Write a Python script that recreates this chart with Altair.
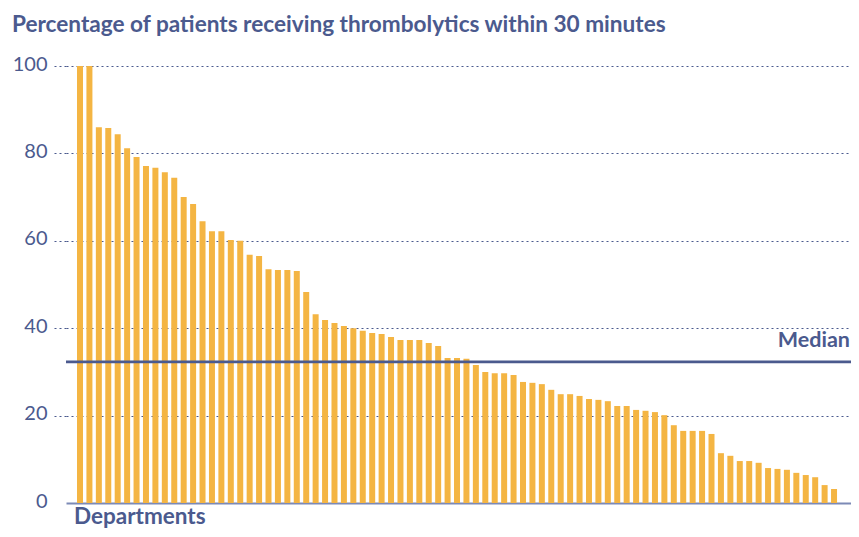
import altair as alt
import pandas as pd

values = [100, 100, 86.0, 85.8, 84.4, 81.2, 79.2, 77.1, 76.7, 75.7,
          74.4, 70.0, 68.4, 64.5, 62.2, 62.2, 60.2, 60.0, 56.8, 56.5,
          53.5, 53.3, 53.3, 53.1, 48.3, 43.2, 41.9, 41.2, 40.5, 40.0,
          39.4, 38.9, 38.7, 38.0, 37.3, 37.3, 37.3, 36.6, 35.9, 33.2,
          33.2, 33.0, 31.6, 30.0, 29.7, 29.7, 29.3, 27.7, 27.5, 27.2,
          25.9, 24.9, 24.9, 24.5, 23.8, 23.6, 23.3, 22.2, 22.2, 21.3,
          21.1, 20.8, 20.1, 17.8, 16.5, 16.5, 16.5, 15.8, 11.4, 10.8,
          9.6, 9.6, 9.2, 8.0, 7.8, 7.6, 6.9, 6.4, 5.9, 4.1, 3.2]
departments = list(range(1, len(values) + 1))
median_value = [32.3]
median_label = ["Median"]
y_ticks = [0, 20, 40, 60, 80, 100]
title_text = ["Percentage of patients receiving thrombolytics within 30 minutes"]
x_title = ["Departments"]

NAVY = "#4B5A8E"
BAR = "#F4B543"
FONT = "Lato"
W, H = 785, 437

df = pd.DataFrame({"dept": departments, "pct": values})
med = pd.DataFrame({"m": median_value, "label": median_label})

xscale = alt.Scale(domain=[-0.485, 82.80], nice=False, zero=False, padding=0)
yscale = alt.Scale(domain=[0, 100], nice=False)

bars = alt.Chart(df).mark_bar(width=6, color=BAR).encode(
    x=alt.X("dept:Q", scale=xscale,
            axis=alt.Axis(title=None, labels=False, ticks=False, grid=False,
                          domain=True, domainColor="#7C8AB6", domainWidth=2)),
    y=alt.Y("pct:Q", scale=yscale,
            axis=alt.Axis(title=None, values=y_ticks, domain=False,
                          labelFont=FONT, labelFontSize=20, labelColor=NAVY,
                          labelPadding=6, labelOffset=-2,
                          tickSize=13, tickColor=NAVY, tickDash=[2, 3], tickWidth=1.2,
                          tickOpacity={"condition": {"test": "datum.value === 0", "value": 0}, "value": 1},
                          grid=True, gridColor=NAVY, gridDash=[2, 3], gridWidth=1.2,
                          gridOpacity={"condition": {"test": "datum.value === 0", "value": 0}, "value": 1})),
)

med_rule = alt.Chart(med).mark_rule(color=NAVY, strokeWidth=2.6).encode(
    y=alt.Y("m:Q", scale=yscale)
)

med_text = alt.Chart(med).mark_text(
    align="right", baseline="alphabetic", dy=-15, font=FONT, fontSize=21.5,
    fontWeight="bold", color=NAVY
).encode(
    x=alt.value(W - 1),
    y=alt.Y("m:Q", scale=yscale),
    text="label:N",
)

title = alt.Chart(pd.DataFrame({"t": title_text})).mark_text(
    align="left", baseline="alphabetic", font=FONT, fontSize=22.6,
    fontWeight="bold", color=NAVY
).encode(x=alt.value(-54), y=alt.value(-34), text="t:N")

xt = alt.Chart(pd.DataFrame({"t": x_title})).mark_text(
    align="left", baseline="alphabetic", font=FONT, fontSize=22.5,
    fontWeight="bold", color=NAVY
).encode(x=alt.value(8), y=alt.value(H + 21), text="t:N")

chart = alt.layer(bars, med_rule, med_text, title, xt).properties(
    width=W, height=H,
    autosize=alt.AutoSizeParams(type="none"),
    padding={"left": 58, "top": 58, "right": 0, "bottom": 26},
).configure_view(stroke=None)

chart.save("out.html", embed_options={"renderer": "svg", "actions": False})
